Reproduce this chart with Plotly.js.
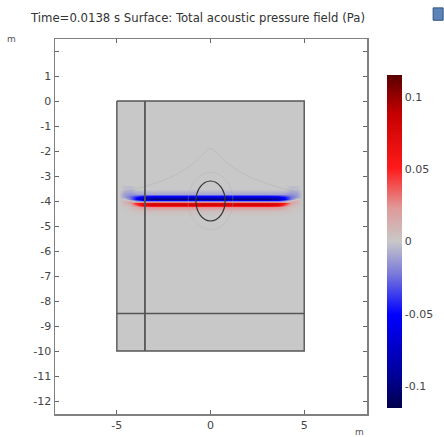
<!DOCTYPE html>
<html>
<head>
<meta charset="utf-8">
<script src="https://cdn.plot.ly/plotly-3.0.1.min.js"></script>
<style>html,body{margin:0;padding:0;background:#fff;}#chart{width:444px;height:437px;}</style>
</head>
<body>
<div id="chart"></div>
<script>
// ---- data ----
const titleText = 'Time=0.0138 s Surface: Total acoustic pressure field (Pa)';
const domainX = [-5, 5];
const domainY = [-10, 0];
const dividerX = -3.5;          // vertical interior boundary
const dividerY = -8.5;          // horizontal interior boundary
const obstacleCenter = [0, -4];
const obstacleRadius = [0.78, 0.8];

const fieldX = [-4.96, -4.9, -4.8, -4.6, -4.3, -4.0, -3.6, -3, -2, -1, 0, 1, 2, 3, 3.6, 4.0, 4.3, 4.6, 4.8, 4.9, 4.96];
const fieldY = [-4.6, -4.4, -4.25, -4.15, -4.07, -4.0, -3.92, -3.82, -3.7, -3.5];
const fieldZ = [
  [0, 0, 0, 0, 0, 0, 0, 0, 0, 0, 0, 0, 0, 0, 0, 0, 0, 0, 0, 0, 0],
  [0, 0, 0, 0, 0.002, 0.004, 0.005, 0.005, 0.005, 0.005, 0.005, 0.005, 0.005, 0.005, 0.005, 0.004, 0.002, 0, 0, 0, 0],
  [0, 0, 0, 0.002, 0.005, 0.012, 0.022, 0.025, 0.025, 0.025, 0.025, 0.025, 0.025, 0.025, 0.022, 0.012, 0.005, 0.002, 0, 0, 0],
  [0, 0, 0.002, 0.004, 0.01, 0.035, 0.07, 0.08, 0.08, 0.08, 0.08, 0.08, 0.08, 0.08, 0.07, 0.035, 0.01, 0.004, 0.002, 0, 0],
  [0, 0, 0.003, 0.008, 0.02, 0.05, 0.07, 0.075, 0.075, 0.075, 0.075, 0.075, 0.075, 0.075, 0.07, 0.05, 0.02, 0.008, 0.003, 0, 0],
  [0, 0, 0.004, 0.01, 0.015, -0.01, -0.02, -0.02, -0.02, -0.02, -0.02, -0.02, -0.02, -0.02, -0.02, -0.01, 0.015, 0.01, 0.004, 0, 0],
  [0, 0, 0.002, 0.004, -0.02, -0.05, -0.085, -0.1, -0.1, -0.1, -0.1, -0.1, -0.1, -0.1, -0.085, -0.05, -0.02, 0.004, 0.002, 0, 0],
  [0, 0, -0.005, -0.012, -0.025, -0.045, -0.065, -0.07, -0.07, -0.07, -0.07, -0.07, -0.07, -0.07, -0.065, -0.045, -0.025, -0.012, -0.005, 0, 0],
  [0, 0, -0.005, -0.012, -0.015, -0.012, -0.01, -0.01, -0.01, -0.01, -0.01, -0.01, -0.01, -0.01, -0.01, -0.012, -0.015, -0.012, -0.005, 0, 0],
  [0, 0, 0, -0.003, -0.004, 0, 0, 0, 0, 0, 0, 0, 0, 0, 0, 0, -0.004, -0.003, 0, 0, 0]
];

// faint scattered-wave fronts
const frontX = [-4.6, -3.2, -2, -1.1, -0.5, 0, 0.5, 1.1, 2, 3.2, 4.6];
const frontY = [-3.65, -3.35, -3.0, -2.6, -2.2, -1.9, -2.2, -2.6, -3.0, -3.35, -3.65];

const yTickVals = [-12, -11, -10, -9, -8, -7, -6, -5, -4, -3, -2, -1, 0, 1, 2];
const yTickText = ['-12', '-11', '-10', '-9', '-8', '-7', '-6', '-5', '-4', '-3', '-2', '-1', '0', '1', ''];
const xTickVals = [-5, 0, 5];
const xTickText = ['-5', '0', '5'];
const cbTickVals = [-0.1, -0.05, 0, 0.05, 0.1];
const cbTickText = ['-0.1', '-0.05', '0', '0.05', '0.1'];
const cRange = [-0.115, 0.115];

// ---- styling ----
const gray0 = '#c8c8c8';
const colorscale = [
  [0.0, '#00004a'],
  [0.1, '#00009a'],
  [0.28, '#0000ff'],
  [0.4, '#7777dd'],
  [0.5, gray0],
  [0.6, '#e09a9a'],
  [0.72, '#ff1a1a'],
  [0.88, '#c80000'],
  [1.0, '#5a0000']
];
const tickFont = {family: 'DejaVu Sans, Liberation Sans, sans-serif', size: 11, color: '#444'};

const traces = [
  {
    type: 'heatmap', x: fieldX, y: fieldY, z: fieldZ,
    zsmooth: 'best', colorscale: colorscale, zmin: cRange[0], zmax: cRange[1],
    hoverinfo: 'skip',
    colorbar: {
      x: 1.064, xanchor: 'left', xpad: 0,
      y: 0.46, yanchor: 'middle', ypad: 0,
      len: 333, lenmode: 'pixels', thickness: 15,
      outlinewidth: 0,
      tickvals: cbTickVals, ticktext: cbTickText,
      ticks: '', tickfont: tickFont
    }
  },
  {
    type: 'scatter', mode: 'lines', x: frontX, y: frontY,
    line: {color: 'rgba(160,160,160,0.3)', width: 1, shape: 'spline'},
    hoverinfo: 'skip', showlegend: false
  },
  {
    type: 'scatter', mode: 'lines',
    x: [domainX[0], domainX[1], domainX[1], domainX[0], domainX[0]],
    y: [domainY[1], domainY[1], domainY[0], domainY[0], domainY[1]],
    line: {color: '#555', width: 1.4}, hoverinfo: 'skip', showlegend: false
  },
  {
    type: 'scatter', mode: 'lines',
    x: [dividerX, dividerX], y: domainY,
    line: {color: '#555', width: 1.8}, hoverinfo: 'skip', showlegend: false
  },
  {
    type: 'scatter', mode: 'lines',
    x: domainX, y: [dividerY, dividerY],
    line: {color: '#555', width: 1.4}, hoverinfo: 'skip', showlegend: false
  }
];

const axisCommon = {
  showgrid: false, zeroline: false, showline: true, linecolor: '#808080', linewidth: 1.5,
  mirror: 'ticks', ticks: 'inside', ticklen: 4, tickcolor: '#666', tickfont: tickFont
};

const layout = {
  width: 444, height: 437,
  margin: {l: 55, r: 77, t: 39, b: 23, pad: 0},
  paper_bgcolor: '#fff', plot_bgcolor: '#fff',
  showlegend: false,
  xaxis: Object.assign({}, axisCommon, {range: [-8.3, 8.35], tickvals: xTickVals, ticktext: xTickText}),
  yaxis: Object.assign({}, axisCommon, {range: [-12.52, 2.48], tickvals: yTickVals, ticktext: yTickText}),
  shapes: [
    {type: 'rect', xref: 'x', yref: 'y', layer: 'below',
     x0: domainX[0], x1: domainX[1], y0: domainY[0], y1: domainY[1],
     fillcolor: gray0, line: {width: 0}},
    {type: 'circle', xref: 'x', yref: 'y', layer: 'above',
     x0: obstacleCenter[0] - obstacleRadius[0], x1: obstacleCenter[0] + obstacleRadius[0],
     y0: obstacleCenter[1] - obstacleRadius[1], y1: obstacleCenter[1] + obstacleRadius[1],
     line: {color: '#333', width: 1.2}},
    {type: 'circle', xref: 'x', yref: 'y', layer: 'above',
     x0: obstacleCenter[0] - 1.2, x1: obstacleCenter[0] + 1.2,
     y0: obstacleCenter[1] - 1.15, y1: obstacleCenter[1] + 1.15,
     line: {color: 'rgba(170,170,170,0.3)', width: 1}},
    {type: 'rect', xref: 'paper', yref: 'paper', layer: 'above',
     x0: 1.212, x1: 1.244, y0: 1.05, y1: 1.083,
     fillcolor: '#5d84b8', line: {color: '#2f527f', width: 1}}
  ],
  annotations: [
    {text: titleText, xref: 'paper', yref: 'paper', x: -0.087, y: 1.056, xanchor: 'left', yanchor: 'middle',
     showarrow: false,
     font: {family: 'DejaVu Sans Condensed, Liberation Sans Narrow, Liberation Sans, sans-serif', size: 13, color: '#333'}},
    {text: 'm', xref: 'paper', yref: 'paper', x: -0.14, y: 1.0, xanchor: 'center', yanchor: 'middle',
     showarrow: false, font: {family: 'DejaVu Sans, sans-serif', size: 9, color: '#555'}},
    {text: 'm', xref: 'paper', yref: 'paper', x: 0.976, y: -0.03, xanchor: 'center', yanchor: 'top',
     showarrow: false, font: {family: 'DejaVu Sans, sans-serif', size: 9, color: '#555'}}
  ]
};

Plotly.newPlot('chart', traces, layout, {displayModeBar: false, staticPlot: true});
</script>
</body>
</html>
